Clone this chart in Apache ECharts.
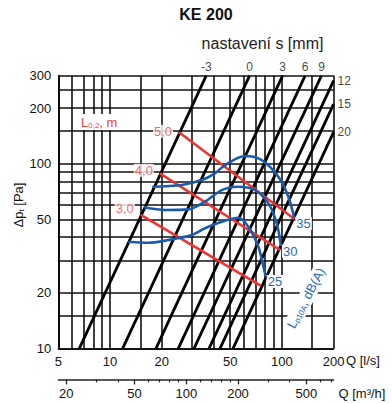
<!DOCTYPE html>
<html><head><meta charset="utf-8">
<script src="https://cdn.jsdelivr.net/npm/echarts@6/dist/echarts.min.js"></script>
<style>html,body{margin:0;padding:0;background:#fff}#c{width:392px;height:403px}</style>
</head><body><div id="c"></div>
<script>
// ---- axis ticks / labels ----
const qTicks = [5,6,7,8,9,10,15,20,30,40,50,60,70,80,90,100,150,200];
const qLabels = [5,10,20,50,100,200];
const pTicks = [10,15,20,30,40,50,60,70,80,90,100,150,200,250,300];
const pLabels = [10,20,50,100,200,300];
const m3hMajor = [20,50,100,200,500];
const m3hMinor = [30,40,60,70,80,90,120,140,160,180,300,400,600,700];

// ---- setting lines s [mm] (black) ----
const settingNames = ['-3','0','3','6','9','12','15','20'];
const settingStart = [[6.63,10],[11.85,10],[18.52,10],[24.97,10],[30.83,10],[37.7,10],[43.68,10],[52.0,10]];
const settingEnd = [[36.3,300],[64.9,300],[101,300],[136.6,300],[170,300],[200,282],[200,210],[200,148.3]];

// ---- throw L0,2 (red) ----
const throwNames = ['3,0','4,0','5,0'];
const throwStart = [[15.1,52.8],[19.5,88.7],[25.2,148]];
const throwEnd = [[75.6,21.8],[97.6,34.1],[118.2,50.2]];

// ---- noise LpA (blue) ----
const noiseNames = ['25','30','35'];
const noise25 = [[12.8,37.8],[16.7,37.3],[21.8,38.6],[29.9,41.1],[35.7,44.7],[44.7,48.5],[55.8,51.0],[63.8,45.6],[73.0,35.5],[79.8,25.5],[80.6,24.5]];
const noise30 = [[15.8,58.1],[20.9,56.2],[28.6,56.6],[35.7,62.3],[44.7,72.0],[55.8,75.1],[69.8,72.0],[83.5,61.0],[93.3,47.6],[98.9,35.8]];
const noise35 = [[17.6,75.1],[26.1,76.7],[34.2,81.6],[40.8,88.7],[46.7,98.4],[61.0,110.1],[76.4,104.7],[95.4,85.0],[109.1,66.3],[118.2,50.6]];

const FONT = 'Liberation Sans, Arial, Helvetica, sans-serif';
const BLACK = '#000', GRID = '#111', RED = '#ee3333', RED_T = '#f04444', BLUE = '#1a5cab', BLUE_T = '#2a68b5';

const chart = echarts.init(document.getElementById('c'), null, {renderer:'svg', width:392, height:403});

const series = [];
settingNames.forEach((n,i)=>{
  series.push({type:'line', name:'s'+n, data:[settingStart[i], settingEnd[i]], symbol:'none', silent:true,
    lineStyle:{color:BLACK, width:2.8}, z:3});
});
series.push({type:'scatter', name:'settingLabels', symbolSize:0, silent:true, z:6,
  data: settingEnd.map((p,i)=>({value:p, label:{show:true, formatter:settingNames[i],
    position: i<5 ? 'top' : 'right', distance: i<5 ? 3 : 4}})),
  label:{fontFamily:FONT, fontSize:12, color:'#111'}});
throwNames.forEach((n,i)=>{
  series.push({type:'line', name:n, data:[throwStart[i], throwEnd[i]], symbol:'none', silent:true,
    lineStyle:{color:RED, width:2.6}, z:4});
});
series.push({type:'scatter', name:'throwLabels', symbolSize:0, silent:true, z:6,
  data: throwStart.map((p,i)=>({value:p, label:{show:true, formatter:throwNames[i], position:'left', distance:6, offset:[0,[-6,-3,-1][i]]}})),
  label:{fontFamily:FONT, fontSize:13, color:RED_T, backgroundColor:'#fff', padding:[0,1]}});
[noise25, noise30, noise35].forEach((d,i)=>{
  series.push({type:'line', name:noiseNames[i], data:d, symbol:'none', smooth:0.3, silent:true,
    lineStyle:{color:BLUE, width:2.6}, z:5,
    endLabel:{show:true, formatter:'{a}', fontFamily:FONT, fontSize:13, color:BLUE_T, distance:1, offset:[0,5],
      backgroundColor:'#fff', padding:[0,1]}});
});

chart.setOption({
  animation:false,
  grid:{left:58.3, right:392-333.6, top:75.6, bottom:403-348.4},
  xAxis:[
    {type:'log', logBase:10, min:5, max:200,
     axisLine:{show:true, lineStyle:{color:BLACK, width:1.6}},
     axisTick:{show:false, customValues:qTicks},
     axisLabel:{customValues:qLabels, fontFamily:FONT, fontSize:13, color:'#111', margin:7},
     splitLine:{show:true, lineStyle:{color:GRID, width:1.6}}},
    {type:'log', logBase:10, min:18, max:720, position:'bottom', offset:31,
     axisLine:{show:true, lineStyle:{color:'#222', width:1.5}},
     axisTick:{show:true, length:5, customValues:m3hMajor, lineStyle:{color:'#222', width:1.3}},
     axisLabel:{customValues:m3hMajor, fontFamily:FONT, fontSize:13, color:'#111', margin:8},
     splitLine:{show:false}},
    {type:'log', logBase:10, min:18, max:720, position:'bottom', offset:31,
     axisLine:{show:false},
     axisTick:{show:true, length:3, customValues:m3hMinor, lineStyle:{color:'#222', width:1.2}},
     axisLabel:{show:false},
     splitLine:{show:false}}
  ],
  yAxis:{type:'log', logBase:10, min:10, max:300,
     axisLine:{show:true, lineStyle:{color:BLACK, width:1.6}},
     axisTick:{show:false, customValues:pTicks},
     axisLabel:{customValues:pLabels, fontFamily:FONT, fontSize:13, color:'#111', margin:7},
     splitLine:{show:true, lineStyle:{color:GRID, width:1.6}}},
  series: series,
  graphic:[
    {type:'text', x:206, y:14, style:{text:'KE 200', font:'bold 16px '+FONT, fill:'#111', textAlign:'center', textVerticalAlign:'middle'}},
    {type:'text', x:262.5, y:43.5, style:{text:'nastavení s [mm]', font:'16px '+FONT, fill:'#222', textAlign:'center', textVerticalAlign:'middle'}},
    {type:'text', x:346, y:360, style:{text:'Q [l/s]', font:'13px '+FONT, fill:'#111', textAlign:'left', textVerticalAlign:'middle'}},
    {type:'text', x:338.5, y:393.3, style:{text:'Q [m³/h]', font:'13px '+FONT, fill:'#111', textAlign:'left', textVerticalAlign:'middle'}},
    {type:'text', x:18, y:205, rotation:Math.PI/2, style:{text:'Δp{s|t} [Pa]', font:'13px '+FONT, fill:'#111', textAlign:'center', textVerticalAlign:'middle',
      rich:{s:{fontSize:8, fontFamily:FONT, fill:'#111', padding:[6,0,0,0]}}}},
    {type:'text', x:80, y:122, z:10, style:{text:'L{s|0,2}, m', font:'13px '+FONT, fill:RED_T, textAlign:'left', textVerticalAlign:'middle',
      backgroundColor:'#fff', padding:[1,1],
      rich:{s:{fontSize:8, fontFamily:FONT, fill:RED_T, padding:[6,0,0,0]}}}},
    {type:'text', x:306, y:298, z:10, rotation:62*Math.PI/180, style:{text:'L{s|p10A}, dB(A)', font:'13px '+FONT, fill:BLUE_T, textAlign:'center', textVerticalAlign:'middle',
      backgroundColor:'#fff', padding:[1,1],
      rich:{s:{fontSize:8, fontFamily:FONT, fill:BLUE_T, padding:[6,0,0,0]}}}}
  ]
});
</script>
</body></html>
